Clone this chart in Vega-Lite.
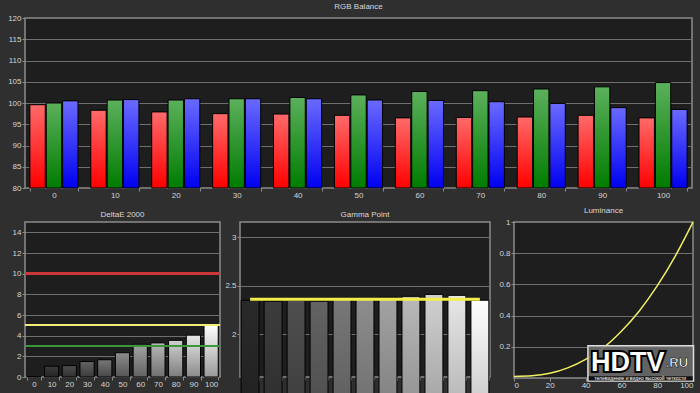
{
  "$schema": "https://vega.github.io/schema/vega-lite/v6.json",
  "background": "#2f2f2f",
  "padding": {"left": 4, "top": 2, "right": 8, "bottom": 0},
  "spacing": 5,
  "config": {
    "font": "Liberation Sans",
    "view": {"fill": "#1e1e1e", "stroke": "#8c8c8c", "strokeWidth": 1.5},
    "axis": {"labelColor": "#d4d4d4", "labelFontSize": 8, "labelFont": "Liberation Sans", "domain": false, "tickColor": "#8c8c8c", "tickSize": 3, "gridColor": "#6f6f6f", "gridWidth": 1, "labelPadding": 1, "labelOverlap": false},
    "axisX": {"grid": false, "labelPadding": 0},
    "title": {"color": "#d8d8d8", "fontSize": 8, "fontWeight": "normal", "font": "Liberation Sans", "offset": 3, "frame": "group"}
  },
  "datasets": {
    "rgb": [
      {"level": 0, "channel": "R", "value": 99.6}, {"level": 0, "channel": "G", "value": 100.0}, {"level": 0, "channel": "B", "value": 100.5},
      {"level": 10, "channel": "R", "value": 98.3}, {"level": 10, "channel": "G", "value": 100.7}, {"level": 10, "channel": "B", "value": 100.8},
      {"level": 20, "channel": "R", "value": 97.9}, {"level": 20, "channel": "G", "value": 100.7}, {"level": 20, "channel": "B", "value": 101.0},
      {"level": 30, "channel": "R", "value": 97.5}, {"level": 30, "channel": "G", "value": 101.0}, {"level": 30, "channel": "B", "value": 101.0},
      {"level": 40, "channel": "R", "value": 97.4}, {"level": 40, "channel": "G", "value": 101.3}, {"level": 40, "channel": "B", "value": 101.0},
      {"level": 50, "channel": "R", "value": 97.1}, {"level": 50, "channel": "G", "value": 101.9}, {"level": 50, "channel": "B", "value": 100.7},
      {"level": 60, "channel": "R", "value": 96.5}, {"level": 60, "channel": "G", "value": 102.7}, {"level": 60, "channel": "B", "value": 100.6},
      {"level": 70, "channel": "R", "value": 96.6}, {"level": 70, "channel": "G", "value": 102.9}, {"level": 70, "channel": "B", "value": 100.3},
      {"level": 80, "channel": "R", "value": 96.7}, {"level": 80, "channel": "G", "value": 103.3}, {"level": 80, "channel": "B", "value": 99.9},
      {"level": 90, "channel": "R", "value": 97.1}, {"level": 90, "channel": "G", "value": 103.8}, {"level": 90, "channel": "B", "value": 98.9},
      {"level": 100, "channel": "R", "value": 96.5}, {"level": 100, "channel": "G", "value": 104.8}, {"level": 100, "channel": "B", "value": 98.5}
    ],
    "de": [
      {"level": 0, "value": 0.05}, {"level": 10, "value": 1.05}, {"level": 20, "value": 1.1}, {"level": 30, "value": 1.5},
      {"level": 40, "value": 1.67}, {"level": 50, "value": 2.35}, {"level": 60, "value": 3.17}, {"level": 70, "value": 3.3},
      {"level": 80, "value": 3.55}, {"level": 90, "value": 4.05}, {"level": 100, "value": 5.0}
    ],
    "gamma": [
      {"level": 0, "value": 2.35, "target": 2.36}, {"level": 10, "value": 2.34, "target": 2.36}, {"level": 20, "value": 2.35, "target": 2.36},
      {"level": 30, "value": 2.34, "target": 2.36}, {"level": 40, "value": 2.36, "target": 2.36}, {"level": 50, "value": 2.36, "target": 2.36},
      {"level": 60, "value": 2.38, "target": 2.36}, {"level": 70, "value": 2.39, "target": 2.36}, {"level": 80, "value": 2.41, "target": 2.36},
      {"level": 90, "value": 2.40, "target": 2.36}, {"level": 100, "value": 2.35, "target": 2.36}
    ],
    "lum": [
      {"level": 0, "value": 0.01}, {"level": 10, "value": 0.014}, {"level": 20, "value": 0.03}, {"level": 30, "value": 0.065},
      {"level": 40, "value": 0.12}, {"level": 50, "value": 0.195}, {"level": 60, "value": 0.3}, {"level": 70, "value": 0.43},
      {"level": 80, "value": 0.59}, {"level": 90, "value": 0.78}, {"level": 100, "value": 1.0}
    ]
  },
  "vconcat": [
    {
      "width": 667,
      "height": 170,
      "title": "RGB Balance",
      "data": {"name": "rgb"},
      "encoding": {
        "x": {"field": "level", "type": "ordinal", "scale": {"paddingInner": 0.21, "paddingOuter": 0.08}, "axis": {"title": null, "labelAngle": 0, "tickBand": "extent", "minExtent": 12, "maxExtent": 12}},
        "xOffset": {"field": "channel", "scale": {"domain": ["R", "G", "B"], "paddingInner": 0.06}},
        "y": {"field": "value", "type": "quantitative", "scale": {"domain": [80, 120], "zero": false, "nice": false}, "axis": {"title": null, "values": [80, 85, 90, 95, 100, 105, 110, 115, 120], "tickCount": 20, "grid": true, "minExtent": 20, "maxExtent": 20}},
        "y2": {"datum": 80}
      },
      "layer": [
        {"transform": [{"filter": "datum.channel === 'R'"}], "mark": {"type": "bar", "stroke": "#000", "strokeWidth": 1, "fill": {"gradient": "linear", "x1": 0, "y1": 0, "x2": 0, "y2": 1, "stops": [{"offset": 0, "color": "#ff6a6a"}, {"offset": 1, "color": "#ff0000"}]}}},
        {"transform": [{"filter": "datum.channel === 'G'"}], "mark": {"type": "bar", "stroke": "#000", "strokeWidth": 1, "fill": {"gradient": "linear", "x1": 0, "y1": 0, "x2": 0, "y2": 1, "stops": [{"offset": 0, "color": "#5cb05c"}, {"offset": 1, "color": "#007c00"}]}}},
        {"transform": [{"filter": "datum.channel === 'B'"}], "mark": {"type": "bar", "stroke": "#000", "strokeWidth": 1, "fill": {"gradient": "linear", "x1": 0, "y1": 0, "x2": 0, "y2": 1, "stops": [{"offset": 0, "color": "#6a6aff"}, {"offset": 1, "color": "#0000f0"}]}}}
      ]
    },
    {
      "spacing": 0,
      "hconcat": [
        {
          "width": 195,
          "height": 155,
          "title": "DeltaE 2000",
          "data": {"name": "de"},
          "layer": [
            {
              "mark": {"type": "bar", "stroke": "#000", "strokeWidth": 1},
              "encoding": {
                "x": {"field": "level", "type": "ordinal", "scale": {"paddingInner": 0.2, "paddingOuter": 0.1}, "axis": {"title": null, "labelAngle": 0, "tickBand": "extent"}},
                "y": {"field": "value", "type": "quantitative", "scale": {"domain": [0, 15], "nice": false}, "axis": {"title": null, "values": [0, 2, 4, 6, 8, 10, 12, 14], "tickCount": 20, "grid": true, "minExtent": 11, "maxExtent": 11}},
                "color": {"field": "level", "type": "quantitative", "scale": {"domain": [0, 100], "range": ["#2a2a2a", "#ffffff"]}, "legend": null}
              }
            },
            {
              "mark": {"type": "bar", "fill": {"gradient": "linear", "x1": 0, "y1": 0, "x2": 0, "y2": 1, "stops": [{"offset": 0, "color": "rgba(0,0,0,0)"}, {"offset": 1, "color": "rgba(0,0,0,0.4)"}]}},
              "encoding": {
                "x": {"field": "level", "type": "ordinal"},
                "y": {"field": "value", "type": "quantitative"}
              }
            },
            {"mark": {"type": "rule", "color": "#cc3838", "strokeWidth": 2.5}, "encoding": {"y": {"datum": 10}}},
            {"mark": {"type": "rule", "color": "#f2ee78", "strokeWidth": 1.5}, "encoding": {"y": {"datum": 5}}},
            {"mark": {"type": "rule", "color": "#3c963c", "strokeWidth": 1.5}, "encoding": {"y": {"datum": 3}}}
          ]
        },
        {
          "width": 250,
          "height": 155,
          "title": "Gamma Point",
          "data": {"name": "gamma"},
          "layer": [
            {
              "mark": {"type": "bar", "stroke": "#000", "strokeWidth": 1},
              "encoding": {
                "x": {"field": "level", "type": "ordinal", "scale": {"paddingInner": 0.22, "paddingOuter": 0.05}, "axis": {"title": null, "labelAngle": 0, "tickBand": "extent"}},
                "y": {"field": "value", "type": "quantitative", "scale": {"domain": [1.56, 3.155], "zero": false, "nice": false}, "axis": {"title": null, "values": [2, 2.5, 3], "tickCount": 20, "format": "~g", "grid": true, "minExtent": 17, "maxExtent": 17}},
                "color": {"field": "level", "type": "quantitative", "scale": {"domain": [0, 100], "range": ["#3c3c3c", "#ffffff"]}, "legend": null}
              }
            },
            {
              "mark": {"type": "bar", "fill": {"gradient": "linear", "x1": 0, "y1": 0, "x2": 0, "y2": 1, "stops": [{"offset": 0, "color": "rgba(0,0,0,0)"}, {"offset": 1, "color": "rgba(0,0,0,0.45)"}]}},
              "encoding": {
                "x": {"field": "level", "type": "ordinal"},
                "y": {"field": "value", "type": "quantitative"}
              }
            },
            {
              "mark": {"type": "line", "color": "#f2ee4a", "strokeWidth": 3},
              "encoding": {
                "x": {"field": "level", "type": "ordinal"},
                "y": {"field": "target", "type": "quantitative"}
              }
            }
          ]
        },
        {
          "width": 179,
          "height": 156,
          "title": "Luminance",
          "layer": [
            {
              "data": {"name": "lum"},
              "mark": {"type": "line", "color": "#f3ee63", "strokeWidth": 1.5, "interpolate": "monotone"},
              "encoding": {
                "x": {"field": "level", "type": "quantitative", "scale": {"domain": [0, 100], "nice": false}, "axis": {"title": null, "values": [0, 20, 40, 60, 80, 100], "tickCount": 20}},
                "y": {"field": "value", "type": "quantitative", "scale": {"domain": [0, 1], "nice": false}, "axis": {"title": null, "values": [0.2, 0.4, 0.6, 0.8, 1], "tickCount": 20, "format": "~g", "grid": true, "minExtent": 22, "maxExtent": 22}}
              }
            },
            {
              "data": {"values": [{}]},
              "mark": {"type": "rect", "fill": "#6a6a6a", "fillOpacity": 0.9, "stroke": "#dddddd", "strokeWidth": 1.5},
              "encoding": {"x": {"datum": 41.3}, "x2": {"datum": 100.3}, "y": {"datum": 0.206}, "y2": {"datum": -0.02}}
            },
            {
              "data": {"values": [{}]},
              "mark": {"type": "rect", "fill": "#111111"},
              "encoding": {"x": {"datum": 41.8}, "x2": {"datum": 99.8}, "y": {"datum": 0.012}, "y2": {"datum": -0.016}}
            },
            {
              "data": {"values": [{}]},
              "mark": {"type": "text", "text": "HDTV", "font": "Liberation Sans", "fontWeight": "bold", "fontSize": 27, "align": "center", "baseline": "alphabetic", "fill": "#000", "stroke": "#000", "strokeWidth": 4},
              "encoding": {"x": {"datum": 63.5}, "y": {"datum": 0.045}}
            },
            {
              "data": {"values": [{}]},
              "mark": {"type": "text", "text": "HDTV", "font": "Liberation Sans", "fontWeight": "bold", "fontSize": 27, "align": "center", "baseline": "alphabetic", "fill": "#ffffff"},
              "encoding": {"x": {"datum": 63.5}, "y": {"datum": 0.045}}
            },
            {
              "data": {"values": [{}]},
              "mark": {"type": "text", "text": ".RU", "font": "Liberation Sans", "fontWeight": "bold", "fontSize": 13, "align": "center", "baseline": "alphabetic", "fill": "#ffffff", "stroke": "#000", "strokeWidth": 0.5},
              "encoding": {"x": {"datum": 91}, "y": {"datum": 0.071}}
            },
            {
              "data": {"values": [{}]},
              "mark": {"type": "text", "text": "телевидение и видео высокой четкости", "font": "Liberation Sans", "fontSize": 5, "align": "center", "baseline": "alphabetic", "fill": "#ffffff"},
              "encoding": {"x": {"datum": 70.5}, "y": {"datum": -0.013}}
            }
          ]
        }
      ]
    }
  ]
}
